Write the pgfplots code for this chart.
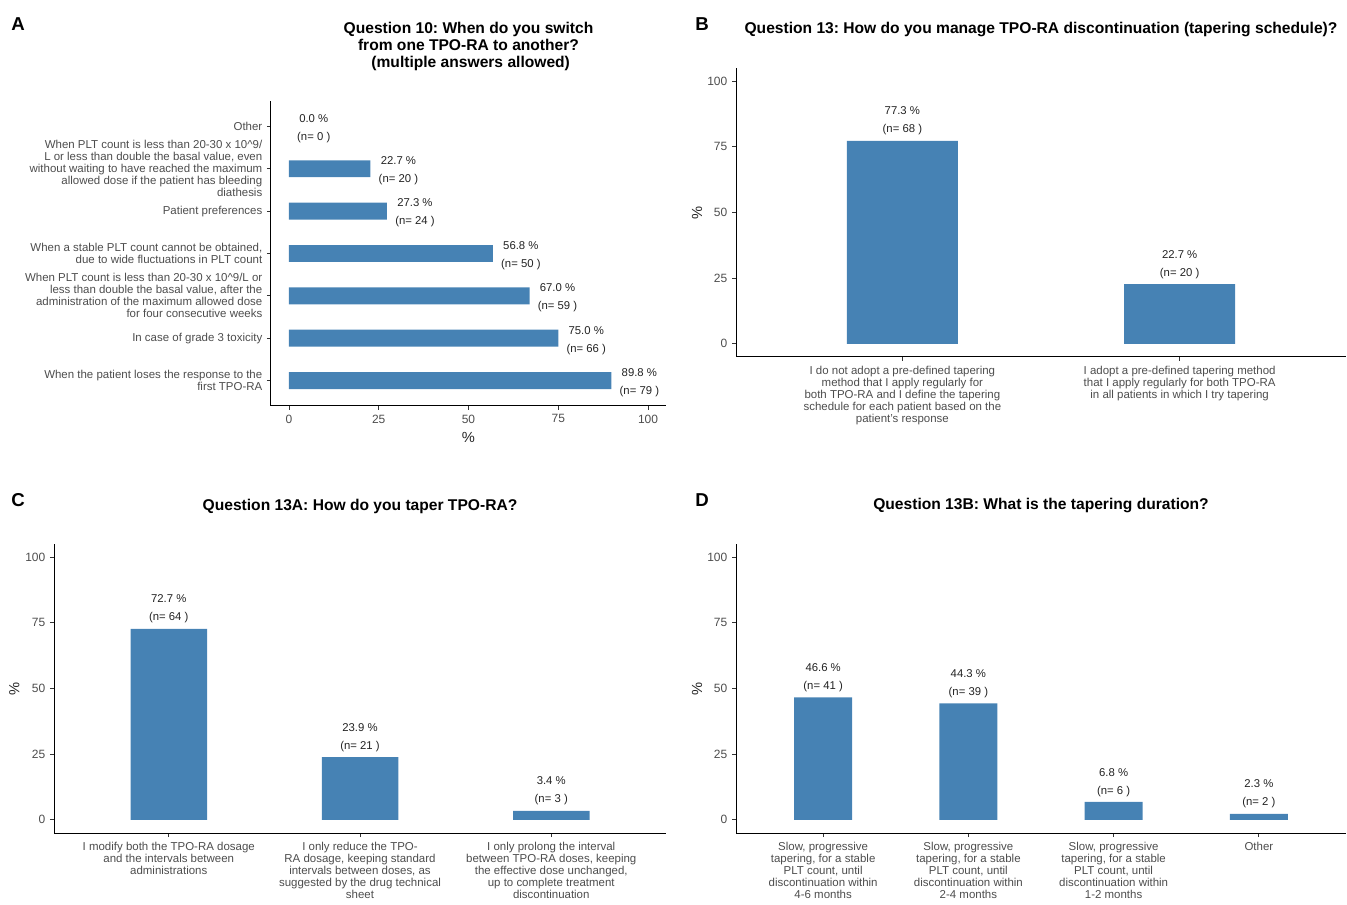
\documentclass[border=0pt]{standalone}
\usepackage{fontspec}
\setmainfont{Liberation Sans}
\usepackage{pgfplots}
\usepackage{pgfplotstable}
\pgfplotsset{compat=1.18}
\frenchspacing

\definecolor{steel}{RGB}{70,130,180}
\definecolor{axtext}{RGB}{77,77,77}
\definecolor{axline}{RGB}{51,51,51}
\definecolor{valtext}{RGB}{35,35,35}

% Question 10 (horizontal bars)
\pgfplotstableread{
cat pct n
1 89.8 79
2 75.0 66
3 67.0 59
4 56.8 50
5 27.3 24
6 22.7 20
7 0.0 0
}\tabA
% Question 13
\pgfplotstableread{
cat pct n
1 77.3 68
2 22.7 20
}\tabB
% Question 13A
\pgfplotstableread{
cat pct n
1 72.7 64
2 23.9 21
3 3.4 3
}\tabC
% Question 13B
\pgfplotstableread{
cat pct n
1 46.6 41
2 44.3 39
3 6.8 6
4 2.3 2
}\tabD

\pgfplotsset{
  panel/.style={
    scale only axis,
    anchor=south west,
    clip=false,
    axis x line*=bottom,
    axis y line*=left,
    axis line style={-, black, line width=0.75pt},
    tick style={axline, line width=0.6pt},
    major tick length=3pt,
    tick align=outside,
    ticklabel style={font=\fontsize{9}{10}\selectfont, text=axtext},
    /pgf/number format/assume math mode=true,
    title style={font=\bfseries\fontsize{11.7}{12.75}\selectfont, align=center,
      at={(axis description cs:0.5,1)}, anchor=center},
    label style={font=\fontsize{11}{12}\selectfont, text=black!85},
  },
  % percentage and count printed next to each bar
  pctlabels/.style={
    point meta=explicit,
    visualization depends on={\thisrow{n} \as \nval},
    nodes near coords={\pgfmathprintnumber[fixed,fixed zerofill,precision=1]{\pgfplotspointmeta}~\%\\(n=~\pgfmathprintnumber[fixed,precision=0]{\nval}~)},
    every node near coord/.append style={align=center, inner sep=0pt,
      font=\fontsize{8.5}{13.5}\selectfont, text=valtext},
  },
  vpanel/.style={
    panel,
    ybar, bar width=0.4,
    ymin=-5, ymax=105,
    ytick={0,25,50,75,100},
    xtick=data,
    xticklabel style={align=center, font=\fontsize{8.6}{9}\selectfont},
    ylabel={\%},
  },
  vbars/.style={
    fill=steel, draw=none, pctlabels,
    every node near coord/.append style={anchor=south, yshift=4pt},
  },
}

\begin{document}
\begin{tikzpicture}
\path[use as bounding box] (0pt,0pt) rectangle (1010.25pt,678pt);

% panel letters
\node[font=\bfseries\fontsize{14}{16}\selectfont] at (13.5pt,660pt) {A};
\node[font=\bfseries\fontsize{14}{16}\selectfont] at (526.5pt,660pt) {B};
\node[font=\bfseries\fontsize{14}{16}\selectfont] at (13.5pt,303pt) {C};
\node[font=\bfseries\fontsize{14}{16}\selectfont] at (526.5pt,303pt) {D};

% A
\begin{axis}[panel,
  at={(203.25pt,373.5pt)}, width=296.25pt, height=228.75pt,
  xbar, bar width=0.4, bar shift=0pt,
  xmin=-5, xmax=105, ymin=0.4, ymax=7.6,
  xtick={0,25,50,75,100}, ytick={1,2,3,4,5,6,7},
  yticklabels={
    {When the patient loses the response to the\\first TPO-RA},
    {In case of grade 3 toxicity},
    {When PLT count is less than 20-30 x 10\textasciicircum{}9/L or\\less than double the basal value, after the\\administration of the maximum allowed dose\\for four consecutive weeks},
    {When a stable PLT count cannot be obtained,\\due to wide fluctuations in PLT count},
    {Patient preferences},
    {When PLT count is less than 20-30 x 10\textasciicircum{}9/\\L or less than double the basal value, even\\without waiting to have reached the maximum\\allowed dose if the patient has bleeding\\diathesis},
    {Other}},
  yticklabel style={align=right, font=\fontsize{8.6}{9}\selectfont},
  xlabel={\%},
  xlabel style={at={(axis description cs:0.5,-0.1016)}, anchor=center},
  title={Question 10: When do you switch\\from one TPO-RA to another?\\\ (multiple answers allowed)},
  title style={yshift=35pt},
]
% bars (a zero share draws no bar)
\addplot[fill=steel, draw=none, x filter/.expression={x<=0 ? nan : x}]
  table[x=pct, y=cat] {\tabA};
% labels for every answer, zero included
\addplot[draw=none, fill=none, pctlabels,
  every node near coord/.append style={anchor=west, xshift=6pt, yshift=-1.5pt}]
  table[x=pct, y=cat, meta=pct] {\tabA};
\end{axis}

% B
\begin{axis}[vpanel,
  at={(552pt,410.25pt)}, width=457.5pt, height=216.75pt,
  xmin=0.4, xmax=2.6,
  xticklabels={
    {I do not adopt a pre-defined tapering\\method that I apply regularly for\\both TPO-RA and I define the tapering\\schedule for each patient based on the\\patient's response},
    {I adopt a pre-defined tapering method\\that I apply regularly for both TPO-RA\\in all patients in which I try tapering}},
  ylabel style={at={(axis description cs:-0.064,0.5)}, anchor=center},
  title={Question 13: How do you manage TPO-RA discontinuation (tapering schedule)?},
  title style={yshift=22.5pt},
]
\addplot[vbars] table[x=cat, y=pct, meta=pct] {\tabB};
\end{axis}

% C
\begin{axis}[vpanel,
  at={(40.5pt,53.25pt)}, width=459pt, height=216.75pt,
  xmin=0.4, xmax=3.6,
  xticklabels={
    {I modify both the TPO-RA dosage\\and the intervals between\\administrations},
    {I only reduce the TPO-\\RA dosage, keeping standard\\intervals between doses, as\\suggested by the drug technical\\sheet},
    {I only prolong the interval\\between TPO-RA doses, keeping\\the effective dose unchanged,\\up to complete treatment\\discontinuation}},
  ylabel style={at={(axis description cs:-0.065,0.5)}, anchor=center},
  title={Question 13A: How do you taper TPO-RA?},
  title style={yshift=22.5pt},
]
\addplot[vbars] table[x=cat, y=pct, meta=pct] {\tabC};
\end{axis}

% D
\begin{axis}[vpanel,
  at={(552pt,53.25pt)}, width=457.5pt, height=216.75pt,
  xmin=0.4, xmax=4.6,
  xticklabels={
    {Slow, progressive\\tapering, for a stable\\PLT count, until\\discontinuation within\\4-6 months},
    {Slow, progressive\\tapering, for a stable\\PLT count, until\\discontinuation within\\2-4 months},
    {Slow, progressive\\tapering, for a stable\\PLT count, until\\discontinuation within\\1-2 months},
    {Other}},
  ylabel style={at={(axis description cs:-0.064,0.5)}, anchor=center},
  title={Question 13B: What is the tapering duration?},
  title style={yshift=22.5pt},
]
\addplot[vbars] table[x=cat, y=pct, meta=pct] {\tabD};
\end{axis}
\end{tikzpicture}
\end{document}
